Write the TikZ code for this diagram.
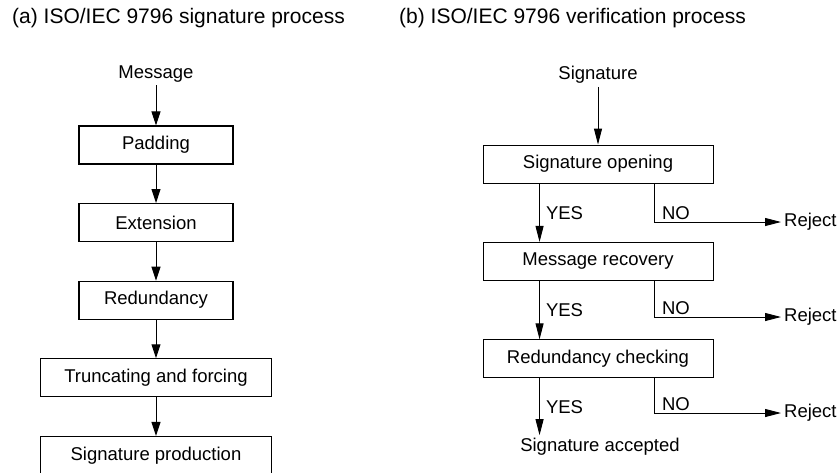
\documentclass[tikz,border=0pt]{standalone}
\usepackage{fontspec}
\setmainfont{Liberation Sans}
\usetikzlibrary{arrows.meta, positioning, calc}
\newcommand{\bodyfont}{\fontsize{18.5}{22}\selectfont}
\tikzset{
    stagebox/.style={rectangle, draw, line width=1.1pt, minimum height=38pt, inner sep=0pt, font=\bodyfont},
    checkbox/.style={rectangle, draw, line width=0.9pt, minimum width=230pt, minimum height=38pt, inner sep=0pt, font=\bodyfont},
    plain/.style={inner sep=3pt, font=\bodyfont},
    title/.style={anchor=west, inner sep=0pt, font=\fontsize{21}{25}\selectfont},
    yeslabel/.style={right, xshift=5pt, inner sep=1pt, font=\bodyfont},
    nolabel/.style={above right, xshift=5pt, inner sep=2pt, font=\bodyfont},
    arrow/.style={-{Triangle[length=14pt, width=9pt]}, line width=1pt},
    branch/.style={-{Triangle[length=16pt, width=8pt]}, line width=0.9pt}
}
\begin{document}
\begin{tikzpicture}[x=1pt, y=-1pt]
    \useasboundingbox (0,0) rectangle (837,472);
    \node [title] (ttla) at (12,18) {(a) ISO/IEC 9796 signature process};
    \node [title] (ttlb) at (399,18) {(b) ISO/IEC 9796 verification process};

    % signature process
    \node [plain] (msg) at (156,74) {Message};
    \node [stagebox, minimum width=154pt] (pad) at (156,145) {Padding};
    \node [stagebox, minimum width=154pt, below=38.5pt of pad] (ext) {Extension};
    \node [stagebox, minimum width=154pt, below=38.5pt of ext] (red) {Redundancy};
    \node [stagebox, minimum width=231pt, below=38.5pt of red] (trunc) {Truncating and forcing};
    \node [stagebox, minimum width=231pt, below=38.5pt of trunc] (prod) {Signature production};

    \draw [arrow] (msg) -- (pad);
    \draw [arrow] (pad) -- (ext);
    \draw [arrow] (ext) -- (red);
    \draw [arrow] (red) -- (trunc);
    \draw [arrow] (trunc) -- (prod);

    % verification process
    \node [plain] (sig) at (598,75) {Signature};
    \node [checkbox] (open) at (598,164) {Signature opening};
    \node [checkbox, below=58.5pt of open] (recov) {Message recovery};
    \node [checkbox, below=58.5pt of recov] (check) {Redundancy checking};
    \node [plain] (accept) at (600,447) {Signature accepted};
    \node [plain, anchor=west] (rej1) at (781,222) {Reject};
    \node [plain, anchor=west] (rej2) at (781,317) {Reject};
    \node [plain, anchor=west] (rej3) at (781,413) {Reject};

    \coordinate (yes1) at ($(open.south west)+(57,0)$);
    \coordinate (yes2) at ($(recov.south west)+(57,0)$);
    \coordinate (yes3) at ($(check.south west)+(57,0)$);
    \coordinate (no1) at ($(open.south west)+(172,0)$);
    \coordinate (no2) at ($(recov.south west)+(172,0)$);
    \coordinate (no3) at ($(check.south west)+(172,0)$);

    \draw [branch] (sig) -- (open);
    \draw [branch] (yes1) -- node [yeslabel] {YES} (yes1 |- recov.north);
    \draw [branch] (yes2) -- node [yeslabel] {YES} (yes2 |- check.north);
    \draw [branch] (yes3) -- node [yeslabel] {YES} (yes3 |- accept.north);
    \draw [branch] (no1) |- node [pos=0.5, nolabel] {NO} (rej1);
    \draw [branch] (no2) |- node [pos=0.5, nolabel] {NO} (rej2);
    \draw [branch] (no3) |- node [pos=0.5, nolabel] {NO} (rej3);
\end{tikzpicture}
\end{document}
